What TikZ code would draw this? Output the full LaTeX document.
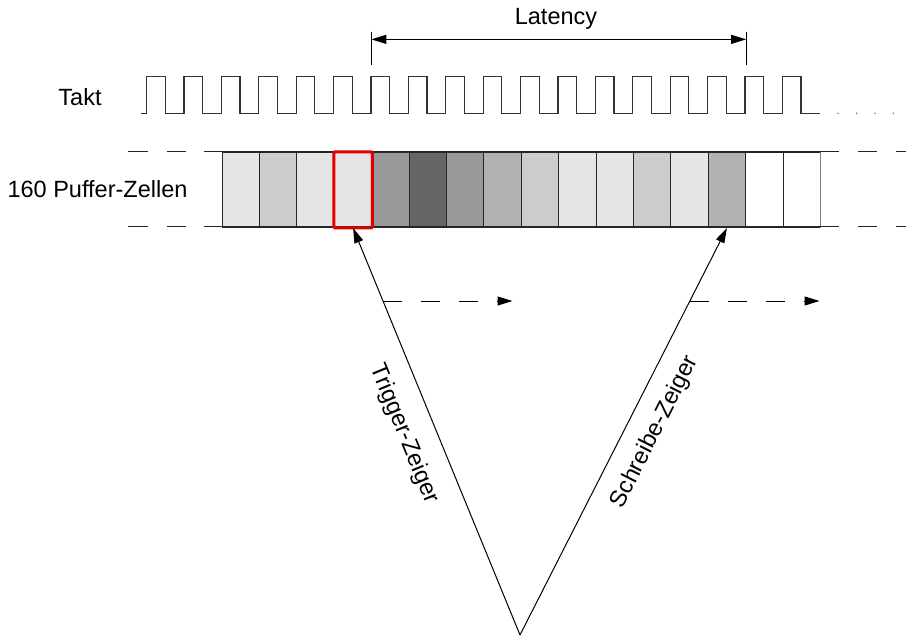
\documentclass[tikz,border=0pt]{standalone}
\usepackage{fontspec}
\setmainfont{Liberation Sans}
\usetikzlibrary{arrows.meta,calc}
\begin{document}
\begin{tikzpicture}[x=1pt,y=-1pt,
  lbl/.style={font=\fontsize{23.5}{28}\selectfont, inner sep=0pt},
  cell/.style={draw=black!85, line width=1pt, minimum width=37.39pt, minimum height=75pt, inner sep=0pt, anchor=north west},
  clk/.style={draw=black!80, line width=1.2pt},
  edge/.style={draw=black!85, line width=1pt},
  ptr/.style={line width=1pt, -{Triangle[length=15pt,width=9pt]}},
  dashptr/.style={line width=1pt, dash pattern=on 19pt off 19pt, -{Triangle[length=15pt,width=9pt]}}
]
\useasboundingbox (0,0) rectangle (906,636);

% labels
\node[lbl] (takt) at (80,97) {Takt};
\node[lbl] (puffer) at (97.5,189) {160 Puffer-Zellen};
\node[lbl] (lat) at (556,19) {Latency};

% clock
\draw[clk] (141,113.3) foreach \k in {0,...,17} {
  -- ({146.7+37.39*\k},113.3) -- ({146.7+37.39*\k},76.7)
  -- ({165.3+37.39*\k},76.7) -- ({165.3+37.39*\k},113.3) } -- (820,113.3);
\foreach \x in {838,856.7,875,893.3}
  \fill[black!60] (\x,113.3) circle (0.8pt);

% cells
\foreach \i/\c in {1/black!10,2/black!20,3/black!10,4/black!10,5/black!40,6/black!60,7/black!40,8/black!30,9/black!20,10/black!10,11/black!10,12/black!20,13/black!10,14/black!30,15/white,16/white}
  \node[cell, fill=\c] (c\i) at ({221.7+37.39*(\i-1)},152) {};
\draw[black!50, line width=1pt] (c16.north east) -- (c16.south east);
\draw[edge] (204,152) -- (839,152);
\draw[edge] (204,227) -- (839,227);
\foreach \y in {152,227} {
  \draw[edge] (128,\y) -- (148,\y);
  \draw[edge] (167,\y) -- (186,\y);
  \draw[edge] (858,\y) -- (877,\y);
  \draw[edge] (896,\y) -- (906,\y);
}
\draw[draw={rgb,255:red,224;green,0;blue,0}, line width=3pt, rounded corners=1pt] (c4.north west) rectangle (c4.south east);

% latency
\coordinate (l1a) at (c5.north west |- 0,31.7);
\coordinate (l1b) at (c5.north west |- 0,65);
\coordinate (l2a) at (c14.north east |- 0,31.7);
\coordinate (l2b) at (c14.north east |- 0,65);
\draw[line width=1pt] (l1a) -- (l1b);
\draw[line width=1pt] (l2a) -- (l2b);
\draw[line width=1pt, {Triangle[length=15pt,width=9pt]}-{Triangle[length=15pt,width=9pt]}]
  ($(l1a)!0.23!(l1b)$) -- ($(l2a)!0.23!(l2b)$);

% pointers
\coordinate (apex) at (520,635);
\draw[ptr] (apex) -- (c4.south);
\draw[ptr] (apex) -- (c14.south);
\coordinate (d1s) at ($(apex)!0.8206!(c4.south)$);
\coordinate (d1e) at (512.5,301);
\coordinate (d2s) at ($(apex)!0.8206!(c14.south)$);
\coordinate (d2e) at (819.5,301);
\draw[dashptr] (d1s) -- (d1e |- d1s);
\draw[dashptr] (d2s) -- (d2e |- d2s);

\node[lbl, rotate=-67.7] (trig) at (404,434) {Trigger-Zeiger};
\node[lbl, rotate=63.2] (schr) at (655,432) {Schreibe-Zeiger};
\end{tikzpicture}
\end{document}
